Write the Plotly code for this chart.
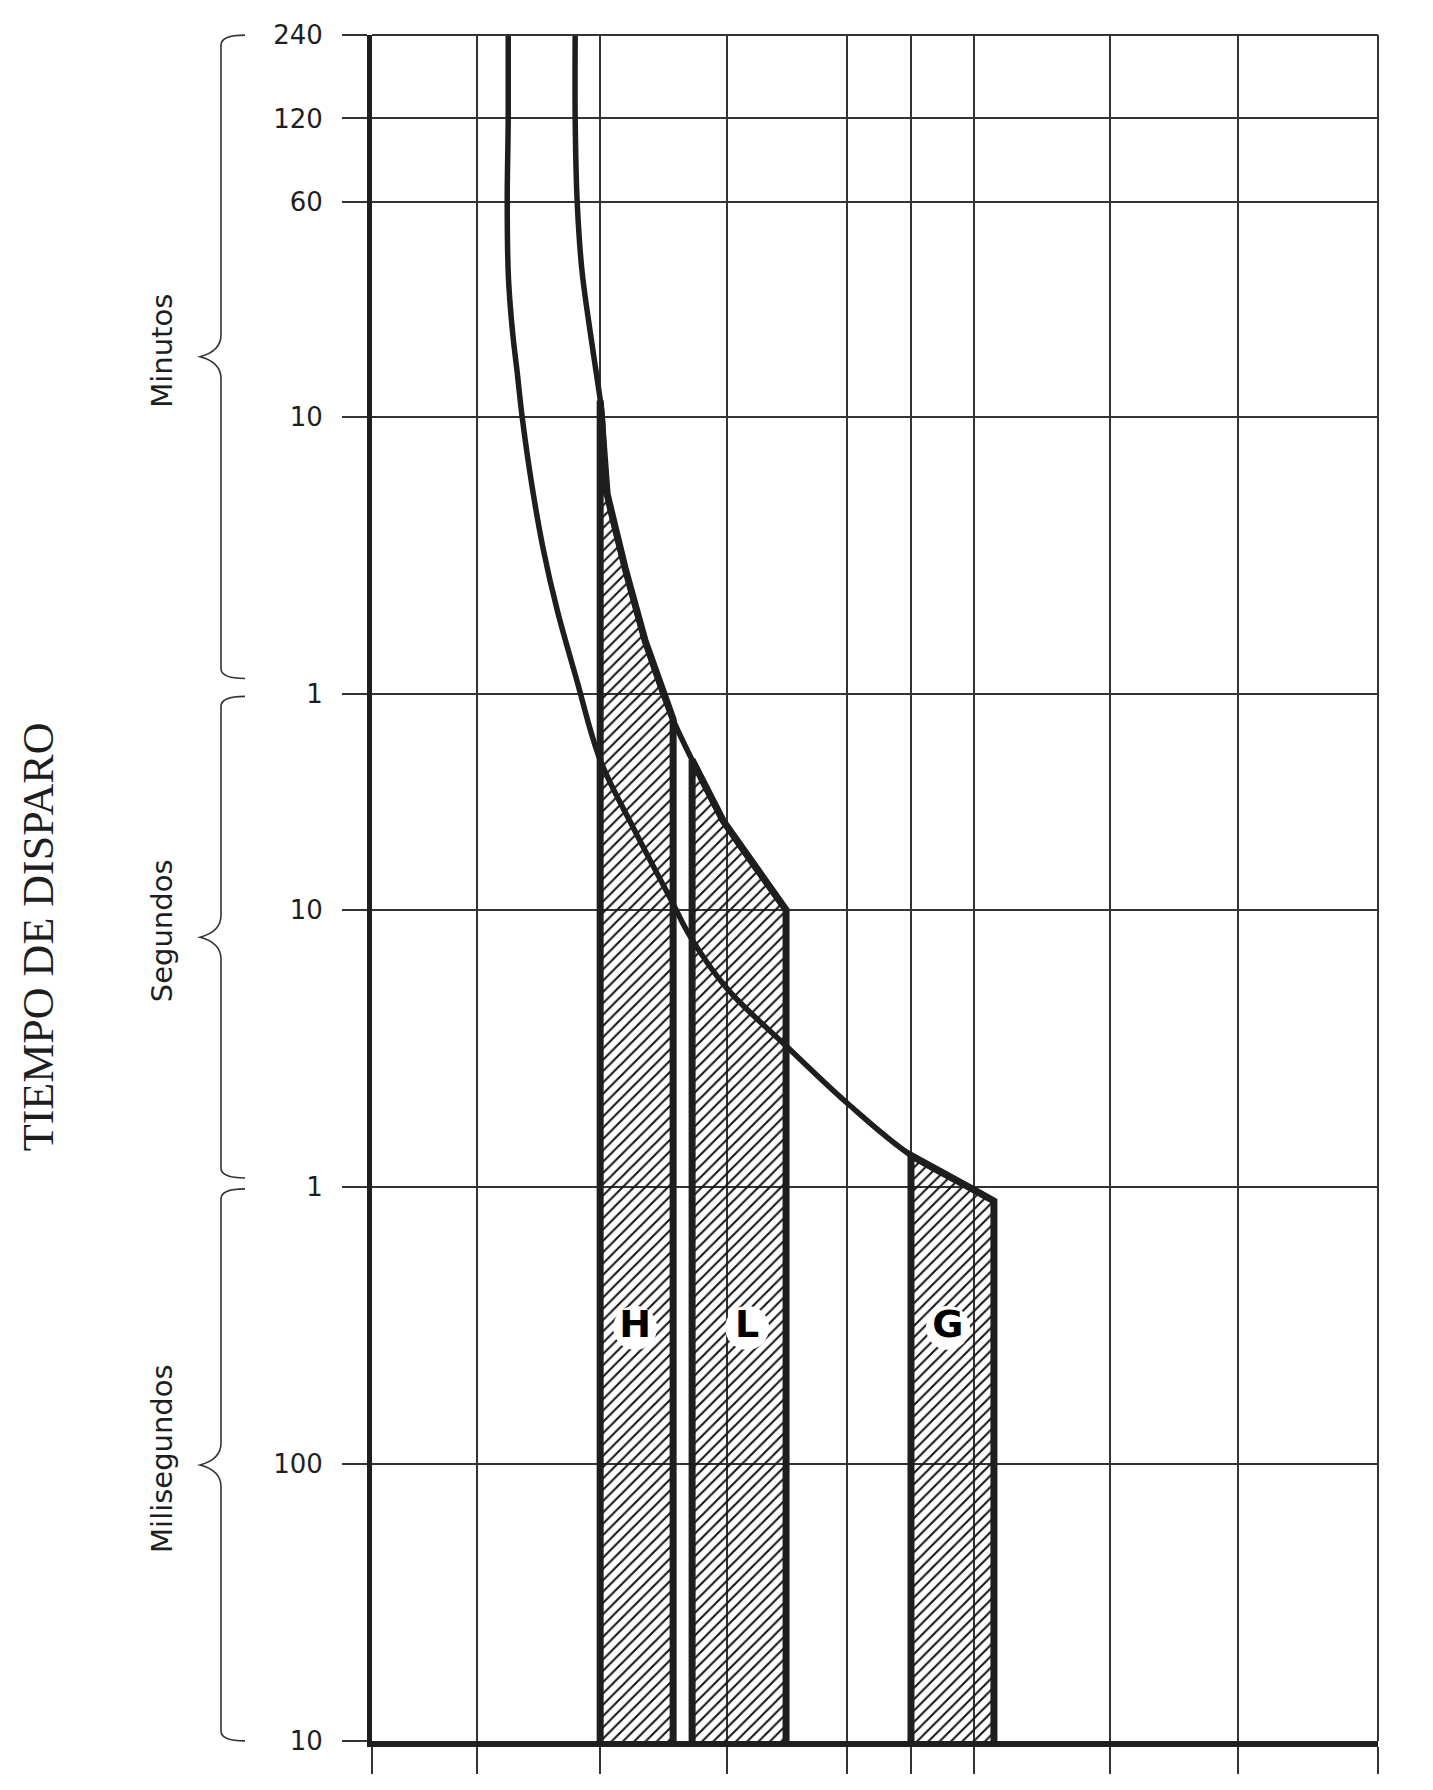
import numpy as np
import plotly.graph_objects as go

# ---------------- data ----------------
# y axis: tripping time in seconds (log scale)
y_tick_vals = [0.01, 0.1, 1, 10, 60, 600, 3600, 7200, 14400]
y_tick_text = ["10", "100", "1", "10", "1", "10", "60", "120", "240"]

# x axis: unlabelled grid divisions (current, arbitrary units)
x_grid = [0, 1.05, 2.28, 3.55, 4.75, 5.39, 6.02, 7.38, 8.66, 10.06]

# upper thermal curve
upper_x = [2.03, 2.03, 2.05, 2.10, 2.19, 2.26, 2.30, 2.35, 2.53, 2.73, 2.91, 3.03, 3.20, 3.51, 4.14]
upper_t = [14400, 7200, 3600, 2000, 1156, 782, 610, 317, 171, 93.5, 60, 46.8, 34.8, 21.0, 10.0]

# lower thermal curve
lower_x = [1.36, 1.36, 1.35, 1.36, 1.38, 1.41, 1.45, 1.50, 1.60, 1.71, 1.85, 2.04, 2.28, 2.61, 2.98,
           3.18, 3.55, 4.16, 4.77, 5.39, 6.02, 6.22]
lower_t = [14400, 7200, 3600, 2000, 1520, 1156, 872, 600, 336, 201, 121, 68.8, 34.8, 19.85, 11.04,
           8.03, 5.2, 3.18, 1.98, 1.30, 0.976, 0.89]

# magnetic tripping bands (hatched)
band_names = ["H", "L", "G"]
H_x = [2.28, 2.28, 2.35, 2.53, 2.73, 2.91, 3.01, 3.01]
H_t = [0.01, 690, 317, 171, 93.5, 60, 48.8, 0.01]
L_x = [3.20, 3.20, 3.51, 4.14, 4.14]
L_t = [0.01, 34.8, 21.0, 10.0, 0.01]
G_x = [5.39, 5.39, 6.02, 6.22, 6.22]
G_t = [0.01, 1.30, 0.976, 0.89, 0.01]

label_x = [2.63, 3.75, 5.76]
label_t = [0.31, 0.31, 0.31]

# ---------------- figure ----------------
W, H = 1417, 1772
ML, MR, MT, MB = 364, 47, 26, 34
PW, PH = W - ML - MR, H - MT - MB
Y0, Y1 = -2.0003, np.log10(14400) + 0.0003
INK = "#1e1e1e"

fig = go.Figure()

pattern = dict(shape="/", size=8, solidity=0.26, fgcolor="#151515",
               bgcolor="rgba(0,0,0,0)", fillmode="replace")
for bx, bt in [(H_x, H_t), (L_x, L_t), (G_x, G_t)]:
    fig.add_trace(go.Scatter(x=bx, y=bt, mode="lines", fill="toself",
                             fillcolor="rgba(0,0,0,0)", fillpattern=pattern,
                             line=dict(color=INK, width=7), hoverinfo="skip"))

fig.add_trace(go.Scatter(x=upper_x, y=upper_t, mode="lines",
                         line=dict(color=INK, width=5.5, shape="spline", smoothing=0.9)))
fig.add_trace(go.Scatter(x=lower_x, y=lower_t, mode="lines",
                         line=dict(color=INK, width=5.5, shape="spline", smoothing=1.0)))

fig.add_trace(go.Scatter(x=label_x, y=label_t, mode="markers+text", text=band_names,
                         textposition="middle center",
                         marker=dict(symbol="circle", size=44, color="white", line=dict(width=0)),
                         textfont=dict(family="DejaVu Sans", size=38, color="black", weight="bold")))


def pxx(px):  # figure pixel x -> paper
    return (px - ML) / PW


def py_t(t):  # time -> paper y
    return (np.log10(t) - Y0) / (Y1 - Y0)


def dpy(px):  # pixel distance -> paper distance (vertical)
    return px / PH


shapes = []
# top and right borders
shapes.append(dict(type="line", xref="paper", yref="paper", x0=0, x1=1, y0=1, y1=1,
                   line=dict(color="#333", width=2)))
shapes.append(dict(type="line", xref="paper", yref="paper", x0=1, x1=1, y0=0, y1=1,
                   line=dict(color="#333", width=2)))

xl, xt, xh = pxx(213), pxx(192), pxx(237)


def brace(yt, yb):
    r = dpy(10)
    c = dpy(22)
    ym = (yt + yb) / 2
    p = (f"M{xh},{yt} Q{xl},{yt} {xl},{yt - r} L{xl},{ym + c} "
         f"Q{xl},{ym + c * 0.25} {xt},{ym} Q{xl},{ym - c * 0.25} {xl},{ym - c} "
         f"L{xl},{yb + r} Q{xl},{yb} {xh},{yb}")
    return dict(type="path", xref="paper", yref="paper", path=p,
                line=dict(color="#333", width=1.6))


braces = [
    ("Minutos", py_t(14400), py_t(60) + dpy(16)),
    ("Segundos", py_t(60) - dpy(2), py_t(1) + dpy(9)),
    ("Milisegundos", py_t(1) - dpy(2), py_t(0.01)),
]
annotations = []
for name, yt, yb in braces:
    shapes.append(brace(yt, yb))
    annotations.append(dict(text=name, xref="paper", yref="paper", x=pxx(154), y=(yt + yb) / 2 + dpy(6),
                            xanchor="center", yanchor="middle", textangle=-90, showarrow=False,
                            font=dict(family="DejaVu Sans", size=29, color=INK)))

seg_mid = (braces[1][1] + braces[1][2]) / 2
annotations.append(dict(text="TIEMPO DE DISPARO", xref="paper", yref="paper", x=pxx(30), y=seg_mid,
                        xanchor="center", yanchor="middle", textangle=-90, showarrow=False,
                        font=dict(family="Liberation Serif", size=44, color=INK)))

fig.update_layout(width=W, height=H, margin=dict(l=ML, r=MR, t=MT, b=MB),
                  plot_bgcolor="white", paper_bgcolor="white", showlegend=False,
                  shapes=shapes, annotations=annotations)

fig.update_xaxes(range=[-0.003, 10.063], tickvals=x_grid, showticklabels=False,
                 showgrid=True, gridcolor="#333", gridwidth=2,
                 ticks="outside", ticklen=27, tickwidth=2, tickcolor="#333",
                 showline=True, linewidth=6, linecolor=INK, zeroline=False)
fig.update_yaxes(type="log", range=[Y0, Y1], tickvals=y_tick_vals, ticktext=y_tick_text,
                 showgrid=True, gridcolor="#333", gridwidth=2,
                 ticks="outside", ticklen=25, tickwidth=2, tickcolor="#333",
                 showline=True, linewidth=5, linecolor=INK, zeroline=False,
                 tickfont=dict(family="DejaVu Sans", size=26, color=INK),
                 ticklabelstandoff=14)

fig.write_html("out.html")
